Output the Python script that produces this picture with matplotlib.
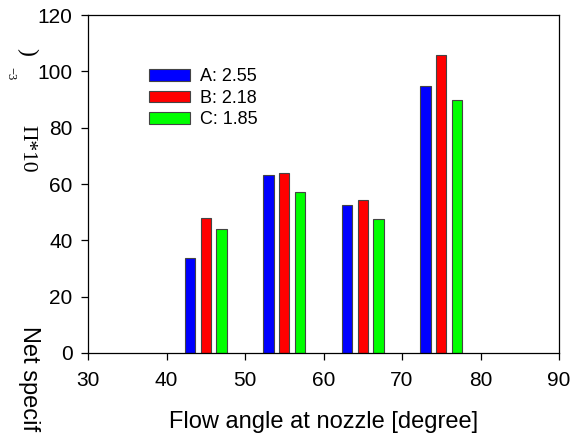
import matplotlib
matplotlib.use("Agg")
import matplotlib.pyplot as plt
import numpy as np

plt.rcParams['font.family'] = ['Liberation Sans', 'DejaVu Sans']

# flow angle groups and the three cases
angles = [45, 55, 65, 75]
labels = ['A: 2.55', 'B: 2.18', 'C: 1.85']
colors = ['#0000ff', '#ff0000', '#00ff00']
vals_a = [33.6, 63.1, 52.5, 94.9]
vals_b = [47.9, 63.9, 54.2, 105.8]
vals_c = [44.1, 57.3, 47.5, 89.8]
series = [vals_a, vals_b, vals_c]

W, H = 571, 436
fig = plt.figure(figsize=(W / 100, H / 100), dpi=100)
ax = fig.add_axes([88 / W, 1 - 353 / H, (559 - 88) / W, (353 - 15) / H])

x = np.array(angles, dtype=float)
offs = [-2, 0, 2]
for vals, off, c, lab in zip(series, offs, colors, labels):
    ax.bar(x + off, vals, width=1.3, color=c, edgecolor='#444444',
           linewidth=0.8, label=lab, zorder=2)

ax.set_xlim(30, 90)
ax.set_ylim(0, 120)
ax.set_xticks(range(30, 91, 10))
ax.set_yticks(range(0, 121, 20))
for s in ax.spines.values():
    s.set_linewidth(0.9)
ax.tick_params(direction='out', length=5, width=0.9, labelsize=15)
ax.tick_params(axis='x', pad=8)
ax.tick_params(axis='y', pad=6)
ax.set_xlabel('Flow angle at nozzle [degree]', fontsize=17, labelpad=15)

leg = ax.legend(loc='upper left', bbox_to_anchor=(0.094, 0.89), frameon=False,
                fontsize=13, handlelength=2.3, handleheight=0.6,
                labelspacing=0.25, handletextpad=0.55)

# broken y label pieces
def px(xp, yp):
    return xp / W, 1 - yp / H

fig.text(*px(29, 326), 'Net specif', rotation=-90, fontsize=17,
         ha='center', va='top')
fig.text(*px(27, 149), 'Π*10', rotation=-90, fontsize=15.5,
         family='Liberation Serif', ha='center', va='center')
fig.text(*px(10, 74), '−3', rotation=-90, fontsize=9,
         family='Liberation Serif', ha='center', va='center')
fig.text(*px(27, 52), ')', rotation=-90, fontsize=17,
         family='Liberation Serif', ha='center', va='center')

fig.savefig('out.png', dpi=100)
